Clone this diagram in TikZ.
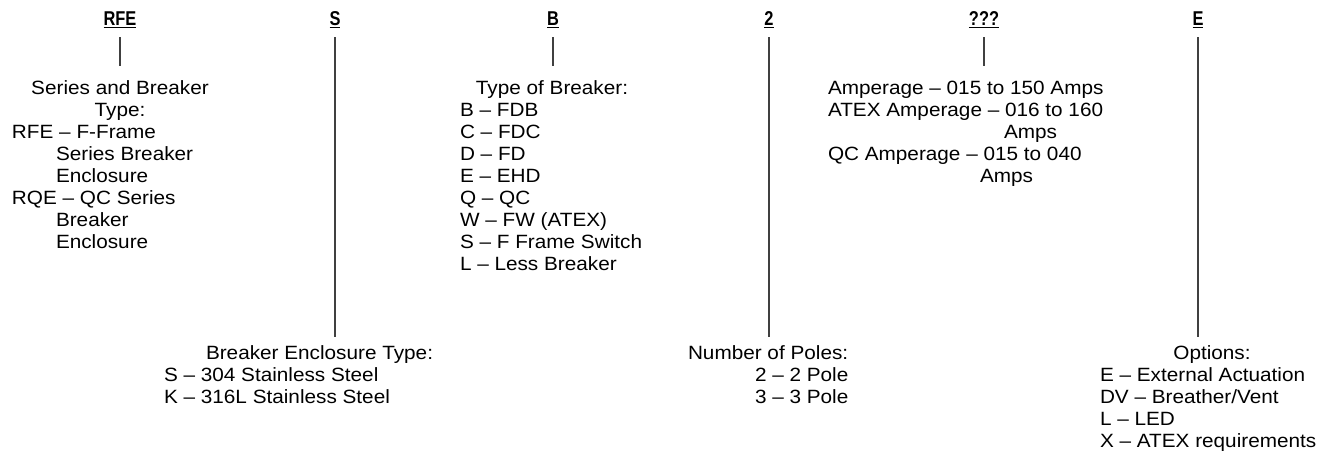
\documentclass[tikz,border=0pt]{standalone}
\usepackage{fontspec}
\setmainfont{Liberation Sans}[FakeStretch=1.08]
\newfontfamily\hdrfont{Liberation Sans}[FakeStretch=0.82]
\tikzset{
  txt/.style={anchor=base west, inner sep=0pt, outer sep=0pt, text=black, font=\fontsize{19.2}{22}\selectfont},
  ctxt/.style={txt, anchor=base},
  hdr/.style={anchor=base, inner sep=0pt, outer sep=0pt, font=\hdrfont\bfseries\fontsize{20}{22}\selectfont},
  uline/.style={draw=black, line width=1.3pt},
  conn/.style={draw=black!75, line width=1.2pt}
}
\begin{document}
\begin{tikzpicture}[x=1pt,y=-1pt]
\useasboundingbox (0,0) rectangle (1331,466);
% headers
\node[hdr] (hRFE) at (120,25) {RFE};
\node[hdr] (hS)   at (335,25) {S};
\node[hdr] (hB)   at (553,25) {B};
\node[hdr] (h2)   at (769,25) {2};
\node[hdr] (hQ)   at (984,25) {???};
\node[hdr] (hE)   at (1198,25) {E};
\foreach \h in {hRFE,hS,hB,h2,hQ,hE}{
  \draw[uline] ([yshift=-2.6pt]\h.base west) -- ([yshift=-2.6pt]\h.base east);
}
% connector ends
\coordinate (eRFE) at (120,66);
\coordinate (eS)   at (335,337);
\coordinate (eB)   at (553,66);
\coordinate (e2)   at (769,337);
\coordinate (eQ)   at (984,66);
\coordinate (eE)   at (1198,337);
\foreach \h/\e in {hRFE/eRFE,hS/eS,hB/eB,h2/e2,hQ/eQ,hE/eE}{
  \draw[conn] ([yshift=-12pt]\h.base) -- (\e);
}
% RFE block
\node[ctxt] (tRFE)  at (120,94)  {Series and Breaker};
\node[ctxt] (tRFEb) at (120,116) {Type:};
\node[txt] (r1) at (12,138) {RFE – F-Frame};
\node[txt] (r2) at (56,160) {Series Breaker};
\node[txt] (r3) at (56,182) {Enclosure};
\node[txt] (r4) at (12,204) {RQE – QC Series};
\node[txt] (r5) at (56,226) {Breaker};
\node[txt] (r6) at (56,248) {Enclosure};
% B block
\node[ctxt] (tB) at (552,94) {Type of Breaker:};
\node[txt] (b1) at (460,116) {B – FDB};
\node[txt] (b2) at (460,138) {C – FDC};
\node[txt] (b3) at (460,160) {D – FD};
\node[txt] (b4) at (460,182) {E – EHD};
\node[txt] (b5) at (460,204) {Q – QC};
\node[txt] (b6) at (460,226) {W – FW (ATEX)};
\node[txt] (b7) at (460,248) {S – F Frame Switch};
\node[txt] (b8) at (460,270) {L – Less Breaker};
% ??? block
\node[txt] (q1) at (828,94)  {Amperage – 015 to 150 Amps};
\node[txt] (q2) at (828,116) {ATEX Amperage – 016 to 160};
\node[txt] (q3) at (1004,138) {Amps};
\node[txt] (q4) at (828,160) {QC Amperage – 015 to 040};
\node[txt] (q5) at (980,182) {Amps};
% S block
\node[txt] (tS) at (206,359) {Breaker Enclosure Type:};
\node[txt] (s1) at (164,381) {S – 304 Stainless Steel};
\node[txt] (s2) at (164,403) {K – 316L Stainless Steel};
% 2 block
\node[txt] (t2) at (688,359) {Number of Poles:};
\node[txt] (p1) at (755,381) {2 – 2 Pole};
\node[txt] (p2) at (755,403) {3 – 3 Pole};
% E block
\node[ctxt] (tE) at (1212,359) {Options:};
\node[txt] (o1) at (1100,381) {E – External Actuation};
\node[txt] (o2) at (1100,403) {DV – Breather/Vent};
\node[txt] (o3) at (1100,425) {L – LED};
\node[txt] (o4) at (1100,447) {X – ATEX requirements};
\end{tikzpicture}
\end{document}
